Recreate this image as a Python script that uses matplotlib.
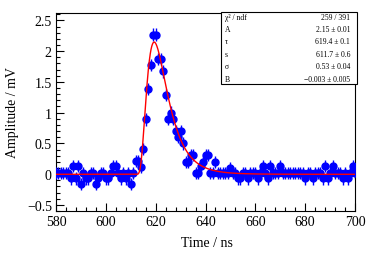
import numpy as np
import matplotlib
matplotlib.use("Agg")
import matplotlib.pyplot as plt
from matplotlib.ticker import MultipleLocator

plt.rcParams['font.family'] = ['Liberation Serif', 'DejaVu Serif']

# measured samples (1 ns steps)
time_ns = list(range(580, 701))
z, p, m, mm = 0.02, 0.13, -0.07, -0.16
amp_mv = [
    z, z, z, z, z, z, m, p, m, p,          # 580-589
    mm, z, m, m, z, z, mm, m, z, z,        # 590-599
    m, m, z, p, p, z, m, z, m, z,          # 600-609
    mm, z, 0.21, 0.21, 0.12, 0.41, 0.89, 1.38, 1.77, 2.27,   # 610-619
    2.27, 1.87, 1.87, 1.67, 1.29, 0.90, 1.00, 0.90, 0.70, 0.60,  # 620-629
    0.70, 0.50, 0.20, 0.20, 0.31, 0.31, z, z, 0.13, 0.20,    # 630-639
    0.31, 0.31, z, z, 0.20, z, z, z, z, z,   # 640-649
    0.10, z, z, m, m, z, z, m, z, z,        # 650-659
    z, m, z, p, z, m, p, z, z, z,           # 660-669
    p, z, z, z, z, z, z, z, z, z,           # 670-679
    m, z, z, m, z, z, z, m, p, m,           # 680-689
    z, p, z, z, z, m, z, m, z, p,           # 690-699
    z,                                      # 700
]
amp_err = 0.1

# fit result
fit_labels = ['χ² / ndf', 'A', 'τ', 's', 'σ', 'B']
fit_values = ['259 / 391', '2.15 ± 0.01', '619.4 ± 0.1', '611.7 ± 0.6',
              '0.53 ± 0.04', '−0.003 ± 0.005']
A, tau, s0, sigma, B = 2.15, 619.4, 611.7, 0.53, -0.003

y_ticks = [-0.5, 0, 0.5, 1, 1.5, 2, 2.5]
y_tick_labels = ['−0.5', '0', '0.5', '1', '1.5', '2', '2.5']

fig = plt.figure(figsize=(3.74, 2.55), dpi=100)
ax = fig.add_axes([56/374, 1-212/255, 299/374, 198/255])

ax.errorbar(time_ns, amp_mv, yerr=amp_err, fmt='o', color='blue',
            markersize=5, elinewidth=1.0, capsize=0, zorder=3)

tt = np.linspace(580, 700, 1200)
dt = np.clip(tt - s0, 1e-9, None)
fit = np.where(tt > s0, A*np.exp(-0.5*(np.log(dt/(tau-s0))/sigma)**2), 0) + B
ax.plot(tt, fit, color='red', lw=1.0, zorder=4)

ax.set_xlim(580, 700)
ax.set_ylim(-0.6, 2.62)
ax.xaxis.set_major_locator(MultipleLocator(20))
ax.xaxis.set_minor_locator(MultipleLocator(4))
ax.set_yticks(y_ticks)
ax.set_yticklabels(y_tick_labels)
ax.yaxis.set_minor_locator(MultipleLocator(0.1))
ax.tick_params(which='both', direction='in', labelsize=10, top=False, right=False)
ax.tick_params(which='major', length=6, width=0.8, pad=3)
ax.tick_params(which='minor', length=3, width=0.8)
for sp in ax.spines.values():
    sp.set_linewidth(0.8)

ax.set_xlabel('Time / ns', fontsize=10)
ax.set_ylabel('Amplitude / mV', fontsize=10)
ax.xaxis.set_label_coords(0.504, -0.125)
ax.yaxis.set_label_coords(-0.125, 0.5)

# stats box
bx0, bx1, by0, by1 = 221/374, 357/374, 1-85/255, 1-13/255
fig.patches.append(plt.Rectangle((bx0, by0), bx1-bx0, by1-by0, transform=fig.transFigure,
                                 facecolor='white', edgecolor='black', lw=0.8, zorder=10))
rows_y = [17.5, 30, 42.5, 55, 67.5, 80]
for lab, val, ry in zip(fit_labels, fit_values, rows_y):
    fig.text(225/374, 1-ry/255, lab, fontsize=5.5, va='center', ha='left', zorder=11)
    fig.text(350/374, 1-ry/255, val, fontsize=5.5, va='center', ha='right', zorder=11)

fig.savefig('out.png', dpi=100)
